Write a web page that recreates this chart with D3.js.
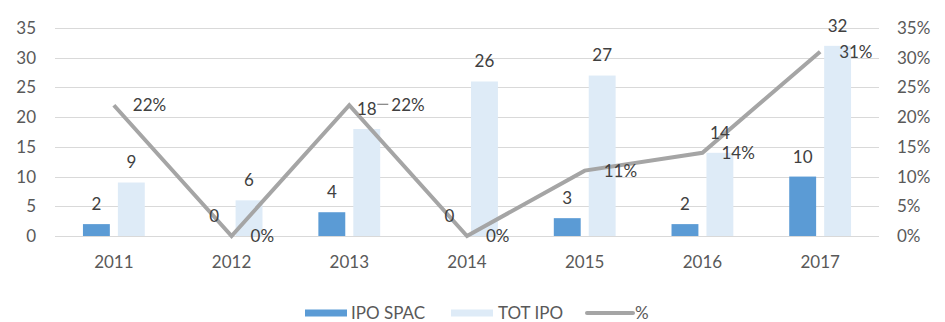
<!DOCTYPE html>
<html>
<head>
<meta charset="utf-8">
<script src="https://cdn.jsdelivr.net/npm/d3@7"></script>
<style>
  body { margin: 0; background: #fff; }
  text { font-family: Lato, "Open Sans", sans-serif; }
</style>
</head>
<body>
<svg id="chart" width="945" height="322"></svg>
<script>
const years = ["2011", "2012", "2013", "2014", "2015", "2016", "2017"];
const ipoSpac = [2, 0, 4, 0, 3, 2, 10];
const totIpo = [9, 6, 18, 26, 27, 14, 32];
const pct = [22, 0, 22, 0, 11, 14, 31];
const leftTicks = [0, 5, 10, 15, 20, 25, 30, 35];
const rightTicks = [0, 5, 10, 15, 20, 25, 30, 35];

const fs = 17;
const svg = d3.select("#chart");

const x = d3.scaleBand().domain(years).range([55, 879]);
const xs = d3.scaleBand()
    .domain(["spac", "tot"])
    .range([0, x.bandwidth()])
    .paddingInner(0.23)
    .paddingOuter(0.8);
const y = d3.scaleLinear().domain([0, 35]).range([236, 28]);
const yr = d3.scaleLinear().domain([0, 35]).range([236, 28]);
const cx = (i) => x(years[i]) + x.bandwidth() / 2;

// gridlines
svg.append("g")
    .selectAll("line")
    .data(leftTicks)
    .enter()
    .append("line")
    .attr("x1", 55)
    .attr("x2", 879)
    .attr("y1", (d) => Math.round(y(d)) + 0.5)
    .attr("y2", (d) => Math.round(y(d)) + 0.5)
    .attr("stroke", "#d9d9d9")
    .attr("stroke-width", 1);

// left axis labels
svg.append("g")
    .selectAll("text")
    .data(leftTicks)
    .enter()
    .append("text")
    .text((d) => d)
    .attr("x", 36)
    .attr("y", (d) => y(d))
    .attr("dy", "0.35em")
    .attr("text-anchor", "end")
    .attr("font-size", fs)
    .attr("fill", "#595959");

// right axis labels
svg.append("g")
    .selectAll("text")
    .data(rightTicks)
    .enter()
    .append("text")
    .text((d) => d + "%")
    .attr("x", 897)
    .attr("y", (d) => yr(d))
    .attr("dy", "0.35em")
    .attr("text-anchor", "start")
    .attr("font-size", fs)
    .attr("fill", "#595959");

// category labels
svg.append("g")
    .selectAll("text")
    .data(years)
    .enter()
    .append("text")
    .text((d) => d)
    .attr("x", (d, i) => cx(i))
    .attr("y", 262)
    .attr("dy", "0.35em")
    .attr("text-anchor", "middle")
    .attr("font-size", fs)
    .attr("fill", "#595959");

const series = [
    { key: "spac", values: ipoSpac, color: "#5b9bd5" },
    { key: "tot", values: totIpo, color: "#deebf7" },
];

series.forEach((s) => {
    svg.append("g")
        .selectAll("rect")
        .data(s.values)
        .enter()
        .append("rect")
        .attr("x", (d, i) => x(years[i]) + xs(s.key))
        .attr("width", xs.bandwidth())
        .attr("y", (d) => y(d))
        .attr("height", (d) => y(0) - y(d))
        .attr("fill", s.color);
});

// percentage line
const line = d3.line()
    .x((d, i) => cx(i))
    .y((d) => yr(d));

svg.append("path")
    .datum(pct)
    .attr("d", line)
    .attr("fill", "none")
    .attr("stroke", "#a5a5a5")
    .attr("stroke-width", 4)
    .attr("stroke-linejoin", "miter");

// bar value labels
series.forEach((s) => {
    svg.append("g")
        .selectAll("text")
        .data(s.values)
        .enter()
        .append("text")
        .text((d) => d)
        .attr("x", (d, i) => x(years[i]) + xs(s.key) + xs.bandwidth() / 2)
        .attr("y", (d) => y(d) - 20)
        .attr("dy", "0.35em")
        .attr("text-anchor", "middle")
        .attr("font-size", fs)
        .attr("fill", "#404040");
});

// line value labels, to the right of each point; the 2013 one is pushed
// past the "18" bar label and gets a short leader line
const labelShift = [0, 0, 23, 0, 0, 0, 0];
svg.append("g")
    .selectAll("text")
    .data(pct)
    .enter()
    .append("text")
    .text((d) => d + "%")
    .attr("x", (d, i) => cx(i) + 19 + labelShift[i])
    .attr("y", (d) => yr(d))
    .attr("dy", "0.35em")
    .attr("text-anchor", "start")
    .attr("font-size", fs)
    .attr("fill", "#404040");

svg.append("line")
    .attr("x1", cx(2) + 28)
    .attr("x2", cx(2) + 39)
    .attr("y1", yr(pct[2]) - 1)
    .attr("y2", yr(pct[2]) - 1)
    .attr("stroke", "#404040")
    .attr("stroke-width", 0.8);

// legend
const legend = svg.append("g").attr("transform", "translate(0, 313)");
legend.append("rect").attr("x", 305).attr("y", -3.5).attr("width", 42).attr("height", 7).attr("fill", "#5b9bd5");
legend.append("text").text("IPO SPAC").attr("x", 351).attr("dy", "0.35em").attr("font-size", fs).attr("fill", "#595959");
legend.append("rect").attr("x", 451).attr("y", -3.5).attr("width", 42).attr("height", 7).attr("fill", "#deebf7");
legend.append("text").text("TOT IPO").attr("x", 498).attr("dy", "0.35em").attr("font-size", fs).attr("fill", "#595959");
legend.append("line").attr("x1", 587).attr("x2", 633).attr("y1", 0).attr("y2", 0)
    .attr("stroke", "#a5a5a5").attr("stroke-width", 4).attr("stroke-linecap", "round");
legend.append("text").text("%").attr("x", 635).attr("dy", "0.35em").attr("font-size", fs).attr("fill", "#595959");
</script>
</body>
</html>
